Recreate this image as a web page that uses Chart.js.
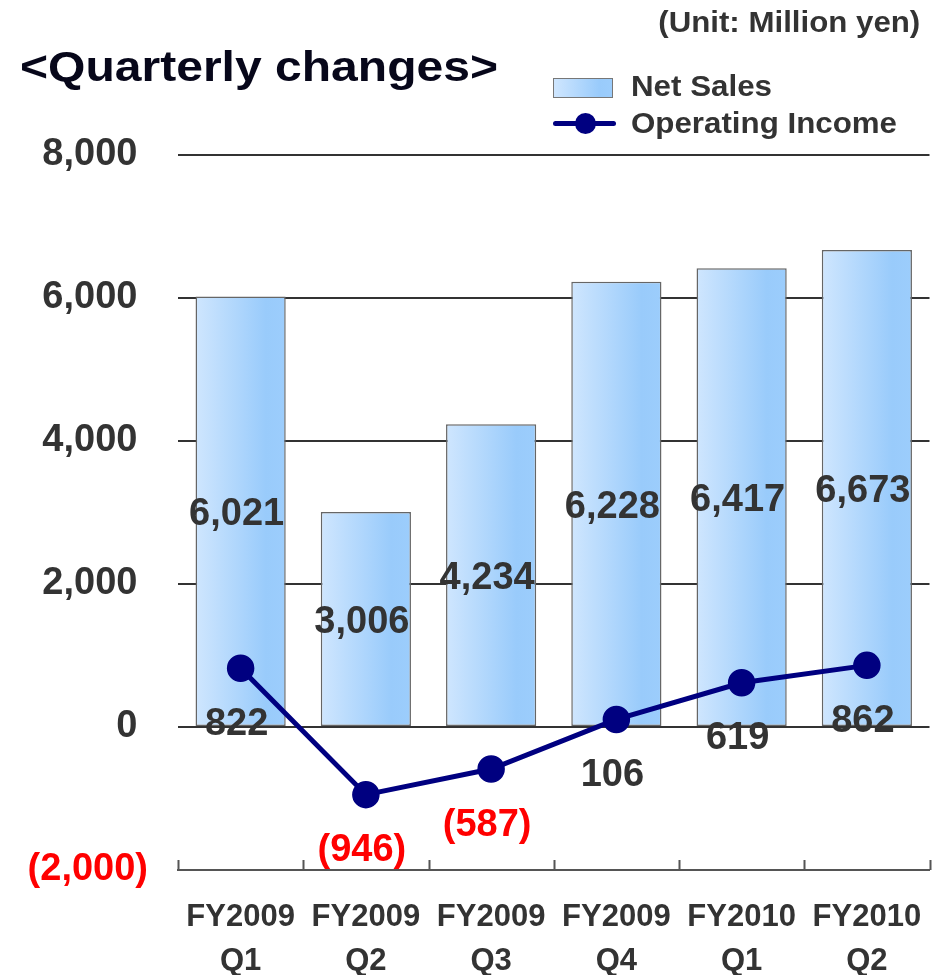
<!DOCTYPE html>
<html>
<head>
<meta charset="utf-8">
<title>Quarterly changes</title>
<script src="https://cdn.jsdelivr.net/npm/chart.js@4.4.1/dist/chart.umd.min.js"></script>
<style>
    html, body { margin: 0; padding: 0; background: #fff; }
    #wrap { position: relative; width: 944px; height: 975px; overflow: hidden;
            font-family: "Liberation Sans", Arial, sans-serif; font-weight: bold; }
    #wrap canvas { position: absolute; left: 0; top: 0; }
    .txt { position: absolute; white-space: nowrap; line-height: 1; }
    #title { left: 20px; top: 46px; font-size: 42px; color: #07071a; transform-origin: left center; }
    #unit { right: 24px; top: 8px; font-size: 29px; color: #333; transform-origin: right center; }
    .leg-txt { left: 631px; font-size: 29px; color: #333; transform-origin: left center; }
    #legSales { top: 72px; }
    #legIncome { top: 109px; }
    #swatch { position: absolute; left: 553px; top: 78px; width: 58px; height: 18px;
              border: 1px solid #777;
              background: linear-gradient(to right, #cfe6fe 0%, #99cbfb 78%, #9ccdfc 100%); }
    #legLine { position: absolute; left: 553px; top: 121px; width: 63px; height: 5px;
               background: #000080; border-radius: 3px; }
    #legDot { position: absolute; left: 575px; top: 113px; width: 21px; height: 21px;
              background: #000080; border-radius: 50%; }
</style>
</head>
<body>
<div id="wrap">
    <canvas id="chart" width="944" height="975"></canvas>
    <div class="txt" id="title">&lt;Quarterly changes&gt;</div>
    <div class="txt" id="unit">(Unit: Million yen)</div>
    <div id="swatch"></div>
    <div class="txt leg-txt" id="legSales">Net Sales</div>
    <div id="legLine"></div>
    <div id="legDot"></div>
    <div class="txt leg-txt" id="legIncome">Operating Income</div>
</div>
<script>
// ─── data ───
const categories = [
    ['FY2009', 'Q1'], ['FY2009', 'Q2'], ['FY2009', 'Q3'],
    ['FY2009', 'Q4'], ['FY2010', 'Q1'], ['FY2010', 'Q2']
];
const netSales = [6021, 3006, 4234, 6228, 6417, 6673];
const operatingIncome = [822, -946, -587, 106, 619, 862];
const yTickValues = [-2000, 0, 2000, 4000, 6000, 8000];

const FONT = '"Liberation Sans", Arial, sans-serif';
const fmt = v => v < 0 ? '(' + Math.abs(v).toLocaleString('en-US') + ')' : v.toLocaleString('en-US');

// stretch the overlay texts to the widths in the picture
function fitWidth(id, w) {
    const el = document.getElementById(id);
    el.style.transform = 'scaleX(' + (w / el.getBoundingClientRect().width) + ')';
}
fitWidth('title', 478);
fitWidth('unit', 262);
fitWidth('legSales', 141);
fitWidth('legIncome', 266);

// ─── plugins ───
const valueLabels = {
    id: 'valueLabels',
    afterDatasetsDraw(chart) {
        const ctx = chart.ctx;
        const size = 38;
        ctx.save();
        ctx.font = 'bold ' + size + 'px ' + FONT;
        ctx.textAlign = 'center';
        ctx.textBaseline = 'alphabetic';

        const bars = chart.getDatasetMeta(1).data;
        bars.forEach((el, i) => {
            const mid = (el.y + el.base) / 2;
            ctx.fillStyle = '#333';
            ctx.fillText(fmt(netSales[i]), el.x - 4, mid + size * 0.36);
        });

        const pts = chart.getDatasetMeta(0).data;
        pts.forEach((el, i) => {
            const v = operatingIncome[i];
            ctx.fillStyle = v < 0 ? '#ff0000' : '#333';
            ctx.fillText(fmt(v), el.x - 4, el.y + 53 + size * 0.36);
        });
        ctx.restore();
    }
};

const axisTicks = {
    id: 'axisTicks',
    afterDraw(chart) {
        const { ctx, chartArea } = chart;
        const xs = chart.scales.x;
        const n = categories.length;
        ctx.save();
        ctx.strokeStyle = '#555';
        ctx.lineWidth = 2;
        ctx.beginPath();
        for (let i = 0; i <= n; i++) {
            let x;
            if (i === 0) x = chartArea.left;
            else if (i === n) x = chartArea.right;
            else x = (xs.getPixelForValue(i - 1) + xs.getPixelForValue(i)) / 2;
            x = Math.round(x) + 0.5;
            ctx.moveTo(x, chartArea.bottom);
            ctx.lineTo(x, chartArea.bottom - 10);
        }
        ctx.stroke();
        ctx.restore();
    }
};

function barGradient(c) {
    const chart = c.chart;
    if (!chart.chartArea) return '#b3d9fd';
    const x = chart.scales.x.getPixelForValue(c.dataIndex);
    const half = chart.chartArea.width / categories.length * 0.72 / 2;
    const g = chart.ctx.createLinearGradient(x - half, 0, x + half, 0);
    g.addColorStop(0, '#cfe6fe');
    g.addColorStop(0.78, '#99cbfb');
    g.addColorStop(1, '#9ccdfc');
    return g;
}

// ─── Chart.js ───
new Chart(document.getElementById('chart').getContext('2d'), {
    data: {
        labels: categories,
        datasets: [
            {
                type: 'line',
                label: 'Operating Income',
                data: operatingIncome,
                order: 0,
                borderColor: '#000080',
                backgroundColor: '#000080',
                borderWidth: 5,
                pointRadius: 13,
                pointBorderWidth: 1.5,
                pointBackgroundColor: '#000080',
                pointBorderColor: '#000080',
                tension: 0,
                fill: false
            },
            {
                type: 'bar',
                label: 'Net Sales',
                data: netSales,
                order: 1,
                backgroundColor: barGradient,
                borderColor: '#666',
                borderWidth: 1.5,
                borderSkipped: false,
                barPercentage: 0.72,
                categoryPercentage: 1
            }
        ]
    },
    options: {
        responsive: false,
        animation: false,
        layout: { padding: { top: 155, right: 9, left: 0, bottom: 0 } },
        plugins: {
            legend: { display: false },
            tooltip: { enabled: false }
        },
        scales: {
            x: {
                grid: { display: false },
                border: { display: true, color: '#555', width: 2 },
                ticks: {
                    color: '#333',
                    font: { family: FONT, size: 31, weight: 'bold', lineHeight: 1.4 },
                    padding: 18,
                    maxRotation: 0,
                    autoSkip: false
                },
                afterFit: s => { s.height = 105; }
            },
            y: {
                min: -2000,
                max: 8000,
                afterBuildTicks: s => { s.ticks = yTickValues.map(v => ({ value: v })); },
                grid: {
                    color: c => c.tick && c.tick.value === -2000 ? '#555' : '#333',
                    lineWidth: 2,
                    drawTicks: false
                },
                border: { display: false },
                ticks: {
                    padding: 30,
                    color: c => c.tick.value < 0 ? '#ff0000' : '#333',
                    font: { family: FONT, size: 38, weight: 'bold' },
                    callback: v => v < 0 ? fmt(v) : fmt(v) + ' '
                },
                afterFit: s => { s.width = 178; }
            }
        }
    },
    plugins: [valueLabels, axisTicks]
});
</script>
</body>
</html>
